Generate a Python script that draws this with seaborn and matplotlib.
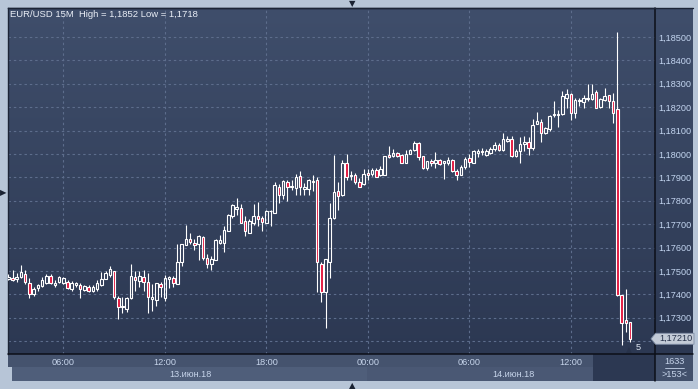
import numpy as np
import pandas as pd
import matplotlib
matplotlib.use("Agg")
import matplotlib.pyplot as plt
import seaborn as sns
from matplotlib.patches import Rectangle, Polygon
from matplotlib.colors import LinearSegmentedColormap

# ---------------- data ----------------
start_time = "2018-06-13 02:45"
title = "EUR/USD 15M  High = 1,1852 Low = 1,1718"
time_tick_labels = ["06:00", "12:00", "18:00", "00:00", "06:00", "12:00"]
time_tick_times = ["2018-06-13 06:00", "2018-06-13 12:00", "2018-06-13 18:00",
                   "2018-06-14 00:00", "2018-06-14 06:00", "2018-06-14 12:00"]
date_labels = ["13.июн.18", "14.июн.18"]
price_ticks = [1.172, 1.173, 1.174, 1.175, 1.176, 1.177, 1.178,
               1.179, 1.180, 1.181, 1.182, 1.183, 1.184, 1.185]
last_price = 1.17210
bars_count_label = "1633"
bars_shown_label = ">153<"
marker_label = "5"

opens = [
    1.17465, 1.17471, 1.17465, 1.17474, 1.17485, 1.17450, 1.17400, 1.17429, 1.17435, 1.17447,
    1.17479, 1.17441, 1.17453, 1.17447, 1.17453, 1.17421, 1.17438, 1.17441, 1.17418, 1.17432,
    1.17412, 1.17421, 1.17441, 1.17467, 1.17481, 1.17501, 1.17384, 1.17347, 1.17336, 1.17384,
    1.17475, 1.17458, 1.17475, 1.17452, 1.17381, 1.17376, 1.17444, 1.17384, 1.17464, 1.17470,
    1.17444, 1.17538, 1.17612, 1.17638, 1.17621, 1.17615, 1.17646, 1.17556, 1.17528, 1.17548,
    1.17621, 1.17618, 1.17672, 1.17734, 1.17765, 1.17770, 1.17714, 1.17663, 1.17706, 1.17734,
    1.17725, 1.17706, 1.17754, 1.17748, 1.17860, 1.17823, 1.17880, 1.17857, 1.17854, 1.17906,
    1.17849, 1.17849, 1.17880, 1.17889, 1.17531, 1.17411, 1.17537, 1.17726, 1.17843, 1.17823,
    1.17963, 1.17906, 1.17911, 1.17880, 1.17871, 1.17920, 1.17914, 1.17931, 1.17911, 1.17911,
    1.17996, 1.17990, 1.18004, 1.17996, 1.17962, 1.18001, 1.18015, 1.18046, 1.17990, 1.17939,
    1.17970, 1.17962, 1.17973, 1.17962, 1.17962, 1.17973, 1.17928, 1.17911, 1.17943, 1.17983,
    1.17963, 1.18003, 1.18014, 1.17997, 1.18003, 1.18020, 1.18040, 1.18017, 1.18057, 1.18063,
    1.17989, 1.18014, 1.18043, 1.18051, 1.18026, 1.18129, 1.18137, 1.18089, 1.18106, 1.18166,
    1.18166, 1.18170, 1.18238, 1.18258, 1.18176, 1.18224, 1.18221, 1.18233, 1.18235, 1.18264,
    1.18201, 1.18230, 1.18250, 1.18227, 1.18190, 1.17396, 1.17290, 1.17282,
]
highs = [
    1.17488, 1.17503, 1.17491, 1.17526, 1.17503, 1.17468, 1.17432, 1.17444, 1.17474, 1.17485,
    1.17488, 1.17459, 1.17479, 1.17474, 1.17459, 1.17456, 1.17453, 1.17447, 1.17441, 1.17438,
    1.17438, 1.17462, 1.17497, 1.17501, 1.17521, 1.17501, 1.17393, 1.17387, 1.17387, 1.17529,
    1.17498, 1.17501, 1.17504, 1.17492, 1.17444, 1.17450, 1.17452, 1.17484, 1.17478, 1.17478,
    1.17615, 1.17615, 1.17697, 1.17663, 1.17638, 1.17655, 1.17649, 1.17573, 1.17562, 1.17635,
    1.17655, 1.17694, 1.17745, 1.17785, 1.17813, 1.17785, 1.17734, 1.17723, 1.17785, 1.17796,
    1.17734, 1.17759, 1.17759, 1.17880, 1.17871, 1.17889, 1.17889, 1.17889, 1.17914, 1.17926,
    1.17874, 1.17891, 1.17909, 1.17900, 1.17537, 1.17553, 1.17791, 1.17994, 1.17880, 1.17974,
    1.18000, 1.17929, 1.17917, 1.17897, 1.17937, 1.17934, 1.17940, 1.17940, 1.17948, 1.17993,
    1.18032, 1.18021, 1.18010, 1.18001, 1.18015, 1.18021, 1.18055, 1.18052, 1.17993, 1.17970,
    1.17979, 1.18007, 1.17979, 1.17970, 1.17985, 1.17979, 1.17934, 1.17951, 1.17986, 1.18000,
    1.18017, 1.18020, 1.18026, 1.18020, 1.18031, 1.18049, 1.18046, 1.18091, 1.18077, 1.18077,
    1.18020, 1.18074, 1.18077, 1.18074, 1.18151, 1.18177, 1.18149, 1.18117, 1.18166, 1.18226,
    1.18186, 1.18267, 1.18278, 1.18261, 1.18241, 1.18241, 1.18252, 1.18298, 1.18298, 1.18272,
    1.18241, 1.18281, 1.18252, 1.18261, 1.18523, 1.17396, 1.17424, 1.17282,
]
lows = [
    1.17459, 1.17456, 1.17451, 1.17471, 1.17444, 1.17385, 1.17391, 1.17412, 1.17432, 1.17444,
    1.17444, 1.17432, 1.17447, 1.17444, 1.17421, 1.17415, 1.17430, 1.17385, 1.17412, 1.17410,
    1.17409, 1.17415, 1.17435, 1.17464, 1.17475, 1.17379, 1.17293, 1.17319, 1.17325, 1.17382,
    1.17413, 1.17433, 1.17416, 1.17322, 1.17330, 1.17350, 1.17387, 1.17373, 1.17427, 1.17430,
    1.17444, 1.17521, 1.17612, 1.17615, 1.17590, 1.17545, 1.17548, 1.17511, 1.17506, 1.17545,
    1.17615, 1.17579, 1.17669, 1.17728, 1.17737, 1.17703, 1.17649, 1.17663, 1.17697, 1.17694,
    1.17672, 1.17706, 1.17692, 1.17748, 1.17791, 1.17809, 1.17797, 1.17846, 1.17826, 1.17826,
    1.17823, 1.17823, 1.17843, 1.17411, 1.17369, 1.17257, 1.17469, 1.17723, 1.17760, 1.17820,
    1.17889, 1.17889, 1.17871, 1.17857, 1.17866, 1.17889, 1.17906, 1.17900, 1.17906, 1.17908,
    1.17982, 1.17985, 1.17985, 1.17959, 1.17959, 1.17999, 1.18013, 1.17973, 1.17936, 1.17931,
    1.17948, 1.17939, 1.17951, 1.17894, 1.17954, 1.17923, 1.17889, 1.17908, 1.17937, 1.17946,
    1.17960, 1.17986, 1.17997, 1.17991, 1.18000, 1.18014, 1.18011, 1.18011, 1.18051, 1.17986,
    1.17986, 1.17960, 1.18014, 1.17997, 1.18017, 1.18126, 1.18051, 1.18083, 1.18100, 1.18157,
    1.18114, 1.18167, 1.18198, 1.18144, 1.18153, 1.18204, 1.18196, 1.18224, 1.18230, 1.18196,
    1.18198, 1.18227, 1.18198, 1.18130, 1.17394, 1.17182, 1.17239, 1.17196,
]
closes = [
    1.17476, 1.17462, 1.17474, 1.17494, 1.17453, 1.17400, 1.17424, 1.17438, 1.17462, 1.17479,
    1.17450, 1.17450, 1.17474, 1.17468, 1.17429, 1.17447, 1.17447, 1.17424, 1.17435, 1.17415,
    1.17432, 1.17450, 1.17465, 1.17492, 1.17507, 1.17387, 1.17344, 1.17350, 1.17384, 1.17478,
    1.17461, 1.17478, 1.17452, 1.17387, 1.17387, 1.17450, 1.17430, 1.17470, 1.17472, 1.17447,
    1.17538, 1.17615, 1.17635, 1.17624, 1.17610, 1.17649, 1.17556, 1.17531, 1.17551, 1.17630,
    1.17630, 1.17675, 1.17737, 1.17782, 1.17773, 1.17706, 1.17669, 1.17714, 1.17734, 1.17720,
    1.17711, 1.17756, 1.17756, 1.17866, 1.17823, 1.17883, 1.17860, 1.17863, 1.17903, 1.17857,
    1.17857, 1.17889, 1.17886, 1.17537, 1.17411, 1.17549, 1.17726, 1.17837, 1.17820, 1.17963,
    1.17900, 1.17909, 1.17880, 1.17860, 1.17914, 1.17911, 1.17931, 1.17903, 1.17934, 1.17993,
    1.17985, 1.18004, 1.17993, 1.17962, 1.18001, 1.18015, 1.18046, 1.17985, 1.17939, 1.17970,
    1.17959, 1.17973, 1.17956, 1.17970, 1.17973, 1.17925, 1.17911, 1.17945, 1.17980, 1.17966,
    1.18011, 1.18011, 1.18006, 1.18011, 1.18020, 1.18040, 1.18017, 1.18063, 1.18063, 1.17989,
    1.18014, 1.18043, 1.18051, 1.18026, 1.18123, 1.18140, 1.18091, 1.18109, 1.18163, 1.18169,
    1.18171, 1.18247, 1.18258, 1.18176, 1.18230, 1.18230, 1.18238, 1.18241, 1.18258, 1.18198,
    1.18233, 1.18247, 1.18224, 1.18173, 1.17396, 1.17279, 1.17276, 1.17210,
]

# ---------------- style ----------------
sns.set_theme(style="dark")
plt.rcParams['font.family'] = ['Liberation Sans', 'DejaVu Sans']

n = len(opens)
df = pd.DataFrame({
    "time": pd.date_range(start_time, periods=n, freq="15min"),
    "open": opens, "high": highs, "low": lows, "close": closes,
})
df["x"] = np.arange(n)
df["up"] = df["close"] >= df["open"]
df["top"] = df[["open", "close"]].max(axis=1)
df["bot"] = df[["open", "close"]].min(axis=1)
t0 = df["time"].iloc[0]
tick_x = [(pd.Timestamp(t) - t0) / pd.Timedelta("15min") for t in time_tick_times]

W, H = 698, 389
fig = plt.figure(figsize=(W / 100, H / 100), dpi=100)
fig.patch.set_facecolor("#b7c5d7")


def fx(px):
    return px / W


def fy(py):
    return 1 - py / H


def frect(x0, y0, x1, y1, color, z=-2):
    fig.add_artist(Rectangle((fx(x0), fy(y1)), fx(x1) - fx(x0), fy(y0) - fy(y1),
                             transform=fig.transFigure, facecolor=color,
                             edgecolor="none", zorder=z))


def fline(x0, y0, x1, y1, color, lw=1.0, z=3):
    fig.add_artist(plt.Line2D([fx(x0), fx(x1)], [fy(y0), fy(y1)], transform=fig.transFigure,
                              color=color, lw=lw, zorder=z))


# gradient background for plot + right scale column
bg = fig.add_axes([fx(8), fy(354), fx(693) - fx(8), fy(8) - fy(354)])
bg.set_zorder(-1)
grad = np.linspace(0, 1, 256).reshape(-1, 1)
cmap = LinearSegmentedColormap.from_list("g", ["#3f4e6b", "#2c3852"])
bg.imshow(grad, aspect="auto", cmap=cmap, extent=[0, 1, 0, 1], origin="upper")
bg.set_axis_off()

# bottom time/date bands (drawn beneath the axes so tick labels stay visible)
frect(8, 354, 655, 367, "#45536e")
frect(12, 367, 367, 381, "#4f5e7a")
frect(367, 367, 593, 381, "#4a5874")
frect(593, 354, 655, 381, "#2c3852")
frect(655, 354, 693, 381, "#42506b")

ax = fig.add_axes([fx(8), fy(354), fx(655) - fx(8), fy(8) - fy(354)])
ax.set_facecolor("none")
ax.set_xlim(-0.07, 152.9)
ax.set_ylim(1.171449, 1.186235)

# grid + scales
ax.set_yticks(price_ticks)
ax.set_yticklabels(["" if abs(v - last_price) < 0.0005 else f"{v:.5f}".replace(".", ",")
                    for v in price_ticks])
ax.set_xticks(tick_x)
ax.set_xticklabels(time_tick_labels)
ax.grid(True, color="#5d6d8c", linestyle=(0, (2.2, 2.6)), linewidth=0.8)
ax.set_axisbelow(True)
ax.tick_params(axis="y", left=False, right=False, labelleft=False, labelright=True,
               length=0, pad=2.4, labelsize=6.6, labelcolor="#c3d5f0")
ax.tick_params(axis="x", length=0, pad=3.2, labelsize=6.6, labelcolor="#c6d4ea")
for s in ["top", "left"]:
    ax.spines[s].set_color("#1c2436")
    ax.spines[s].set_linewidth(1.0)
for s in ["bottom", "right"]:
    ax.spines[s].set_visible(False)

# candles
up = df[df["up"]]
dn = df[~df["up"]]
ax.vlines(df["x"], df["top"], df["high"], color="white", lw=0.8, zorder=3)
ax.vlines(df["x"], df["low"], df["bot"], color="white", lw=0.8, zorder=3)
min_h = 0.000015
ax.bar(up["x"], np.maximum(up["close"] - up["open"], min_h), bottom=up["open"], width=0.6,
       facecolor="none", edgecolor="white", linewidth=0.8, zorder=4)
ax.bar(dn["x"], np.maximum(dn["open"] - dn["close"], min_h), bottom=dn["close"], width=0.6,
       facecolor="#e3173e", edgecolor="white", linewidth=0.8, zorder=4)

# title
fig.text(fx(10.5), fy(14.5), title, fontsize=6.8, color="#e9eef6", va="center", ha="left")

# date labels and bar counters
fig.text(fx(190), fy(374.5), date_labels[0], fontsize=6.6, color="#c6d4ea", ha="center", va="center")
fig.text(fx(513), fy(374.5), date_labels[1], fontsize=6.6, color="#c6d4ea", ha="center", va="center")
fig.text(fx(674), fy(362), bars_count_label, fontsize=6.6, color="#c6d4ea", ha="center", va="center")
fline(665, 368, 684, 368, "#c6d4ea", lw=0.6)
fig.text(fx(674), fy(374.5), bars_shown_label, fontsize=6.6, color="#c6d4ea", ha="center", va="center")

# frame lines
fline(8, 354, 693, 354, "#0c0f18", lw=1.1)
fline(655, 8, 655, 381, "#0c0f18", lw=1.1)
fline(8, 8, 693, 8, "#1c2436", lw=1.0)

# last-price tag
fig.canvas.draw()
yp = ax.transData.transform((0, last_price))[1]
ypx = H - yp
fig.add_artist(Polygon([[fx(651), fy(ypx)], [fx(655.5), fy(ypx - 5.5)], [fx(694), fy(ypx - 5.5)],
                        [fx(694), fy(ypx + 5.5)], [fx(655.5), fy(ypx + 5.5)]], closed=True,
                       transform=fig.transFigure, facecolor="#c3cbd7", edgecolor="#7e8ca4",
                       lw=0.6, zorder=5))
fig.text(fx(659), fy(ypx), f"{last_price:.5f}".replace(".", ","), fontsize=6.6,
         color="#27324a", ha="left", va="center", zorder=6)

# small markers
fig.text(fx(628.5), fy(349.5), "▲", fontsize=5.5, color="#27324a", ha="center", va="center",
         family=["DejaVu Sans"])
fig.text(fx(638), fy(348), marker_label, fontsize=6.6, color="#dfe7f2", ha="center", va="center")
fig.text(fx(352), fy(3.5), "▼", fontsize=6, color="#1a2232", ha="center", va="center",
         family=["DejaVu Sans"])
fig.text(fx(352), fy(385.5), "▲", fontsize=6, color="#1a2232", ha="center", va="center",
         family=["DejaVu Sans"])
fig.text(fx(3.5), fy(193), "▶", fontsize=6, color="#1a2232", ha="center", va="center",
         family=["DejaVu Sans"])

fig.savefig("out.png", dpi=100, facecolor=fig.get_facecolor())
